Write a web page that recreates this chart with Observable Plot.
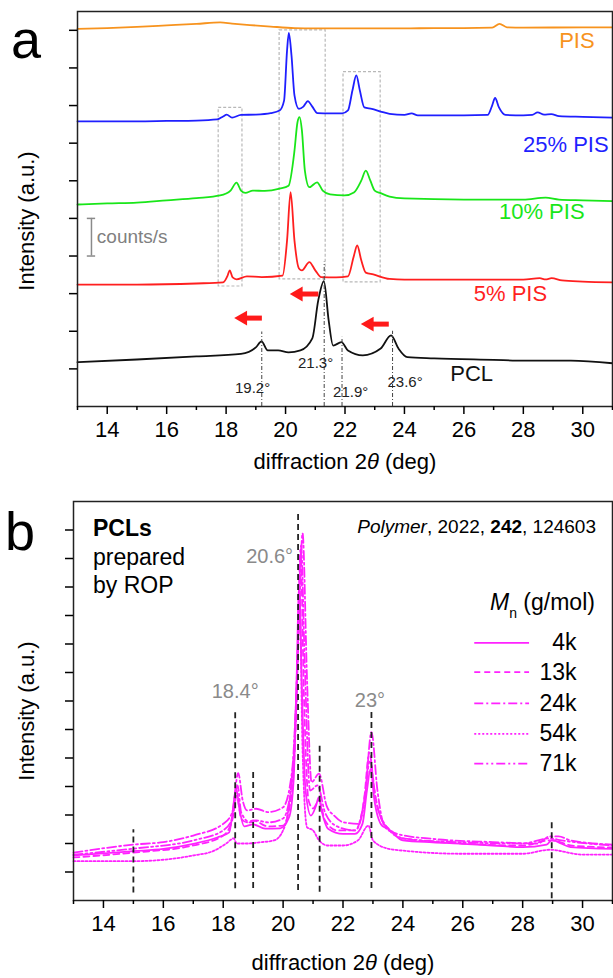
<!DOCTYPE html>
<html><head><meta charset="utf-8">
<script src="https://cdn.jsdelivr.net/npm/d3@7"></script>
<script src="https://cdn.jsdelivr.net/npm/@observablehq/plot@0.6"></script>
<style>
body{margin:0;background:#fff;font-family:Arial,"Liberation Sans",sans-serif;}
#wrap{position:relative;width:613px;height:978px;overflow:hidden;background:#fff;}
#wrap svg{position:absolute;left:0;overflow:visible;}
.abs{position:absolute;white-space:nowrap;line-height:1;color:#000;}
</style></head><body><div id="wrap"></div>
<script>
// ---------- Panel a data: [2theta (deg), intensity (a.u., offset)] ----------
const pisA = [[13,10.04],[14,10.06],[15,10.09],[16,10.13],[17,10.17],[17.8,10.21],[18.2,10.18],[18.8,10.14],[19.5,10.10],[20.3,10.06],[21,10.05],[22,10.05],[24,10.05],[25,10.06],[26,10.06],[26.95,10.07],[27.2,10.17],[27.45,10.08],[28,10.07],[30,10.08],[31,10.08]];
const pis25 = [[13,7.58],[15,7.58],[16,7.59],[17,7.60],[17.7,7.63],[17.9,7.71],[18.02,7.76],[18.2,7.68],[18.5,7.75],[19,7.76],[19.5,7.80],[19.8,7.87],[19.95,8.13],[20.05,9.46],[20.11,9.93],[20.2,9.33],[20.3,8.27],[20.45,7.91],[20.6,7.97],[20.75,8.12],[20.9,7.97],[21.07,7.80],[21.5,7.79],[21.9,7.79],[22.1,7.87],[22.25,8.40],[22.38,8.80],[22.5,8.40],[22.65,7.95],[22.9,7.91],[23.2,7.84],[23.5,7.78],[24.0,7.75],[24.24,7.79],[24.45,7.74],[25,7.74],[26,7.74],[26.8,7.75],[26.95,8.00],[27.05,8.20],[27.18,7.95],[27.4,7.75],[28,7.74],[28.3,7.75],[28.48,7.82],[28.7,7.76],[28.94,7.77],[29.2,7.72],[30,7.70],[31,7.68]];
const pis10 = [[13,5.37],[14,5.40],[15,5.42],[16,5.48],[17,5.54],[17.8,5.61],[18.15,5.74],[18.35,5.95],[18.5,5.74],[18.65,5.68],[18.9,5.74],[19.3,5.73],[19.8,5.79],[20.1,5.87],[20.3,6.80],[20.4,7.55],[20.47,7.69],[20.55,7.34],[20.65,6.27],[20.8,5.83],[21.06,5.96],[21.25,5.74],[21.5,5.64],[21.98,5.61],[22.3,5.69],[22.55,6.01],[22.7,6.27],[22.85,6.01],[23.0,5.74],[23.2,5.67],[23.5,5.58],[24,5.53],[26,5.50],[28,5.50],[28.75,5.55],[29.2,5.50],[30,5.48],[31,5.46]];
const pis5 = [[13,3.24],[15,3.24],[17,3.27],[17.9,3.30],[18.05,3.48],[18.12,3.62],[18.22,3.43],[18.35,3.38],[18.7,3.46],[19.2,3.44],[19.9,3.48],[20.05,4.41],[20.17,5.70],[20.3,4.41],[20.45,3.67],[20.55,3.62],[20.8,3.84],[21.0,3.62],[21.2,3.44],[21.7,3.43],[22.1,3.46],[22.3,4.01],[22.41,4.28],[22.55,3.88],[22.7,3.56],[22.95,3.51],[23.5,3.39],[24,3.37],[26,3.37],[28,3.37],[28.55,3.41],[28.75,3.38],[28.95,3.41],[29.3,3.35],[30,3.32],[31,3.30]];
const pcl = [[13,1.18],[15,1.25],[17,1.33],[18.5,1.40],[19.0,1.57],[19.19,1.73],[19.4,1.49],[19.75,1.49],[20.1,1.44],[20.5,1.49],[20.9,1.81],[21.1,2.82],[21.29,3.33],[21.45,2.29],[21.6,1.62],[21.88,1.71],[22.1,1.49],[22.6,1.36],[23.2,1.54],[23.55,1.89],[23.8,1.54],[24.1,1.31],[25,1.28],[27,1.24],[28,1.22],[29.6,1.22],[31,1.15]];
const seriesNamesA = ["PIS","25% PIS","10% PIS","5% PIS","PCL"];
const labelXA = [30.40, 30.87, 30.06, 28.80, 26.98];   // right end of each label
const labelYA = [9.73, 6.94, 5.16, 3.0, 0.87];
// dashed boxes: [x1, x2, y1, y2]
const boxesA = [[17.75,18.55,3.19,7.94],[19.8,21.35,3.38,10.0],[21.95,23.2,3.30,8.89]];
// PCL peak markers
const peakPos = [19.2, 21.3, 21.9, 23.6];
const peakTop = [1.98, 3.84, 1.84, 2.0];
const peakText = ["19.2°","21.3°","21.9°","23.6°"];
const peakTextX = [18.89, 21.01, 22.19, 24.02];
const peakTextY = [0.48, 1.15, 0.38, 0.65];
// shift arrows: [tip x, tail x, y]
const arrowsA = [[18.3,19.22,2.35],[20.17,21.12,2.99],[22.56,23.49,2.19]];
// scale bar
const barX = 13.47, barY = [4, 5];
const xTicksMajor = [14,16,18,20,22,24,26,28,30];
const xTicksMinor = [13,15,17,19,21,23,25,27,29,31];

// ---------- Panel b data ----------
const b4k = [[13,1.58],[14,1.65],[15,1.73],[16,1.81],[17,1.99],[17.8,2.21],[18.2,2.39],[18.3,2.98],[18.43,3.95],[18.55,3.16],[18.7,2.60],[19.0,2.67],[19.4,2.52],[19.9,2.53],[20.2,2.92],[20.35,4.21],[20.45,7.72],[20.54,11.30],[20.62,7.72],[20.75,3.86],[20.93,2.98],[21.1,3.33],[21.19,3.62],[21.3,3.09],[21.5,2.52],[22.0,2.34],[22.4,2.34],[22.65,2.69],[22.8,3.86],[22.92,4.62],[23.05,3.51],[23.3,2.63],[23.5,2.52],[24.0,2.11],[25,2.04],[26,1.99],[27,1.93],[28,1.87],[28.8,1.96],[28.98,2.13],[29.3,1.99],[29.6,1.87],[31,1.81]];
const b13k = [[13,1.51],[15,1.68],[17,1.93],[18,2.28],[18.3,2.81],[18.45,3.68],[18.6,2.88],[18.8,2.74],[19.0,2.81],[19.5,2.60],[20.0,2.63],[20.3,3.86],[20.45,7.02],[20.58,12.28],[20.7,7.02],[20.85,3.51],[21.0,3.23],[21.2,3.51],[21.4,2.81],[21.8,2.46],[22.4,2.46],[22.7,3.51],[22.88,5.19],[23.05,3.86],[23.3,2.81],[23.6,2.46],[24.0,2.18],[26,2.00],[28,1.93],[28.9,2.11],[29.2,2.07],[29.6,1.93],[31,1.86]];
const b24k = [[13,1.68],[15,1.96],[16,2.05],[17,2.28],[18,2.69],[18.3,3.09],[18.5,4.47],[18.65,3.51],[18.8,3.16],[19.1,3.22],[19.5,3.10],[20.0,3.27],[20.3,4.56],[20.5,8.77],[20.65,12.88],[20.8,7.72],[20.95,4.15],[21.2,4.45],[21.45,3.33],[21.7,2.98],[22.0,2.75],[22.5,2.69],[22.75,3.86],[22.95,5.91],[23.15,3.86],[23.4,2.57],[23.8,2.34],[25,2.16],[27,2.05],[28.5,2.00],[28.9,2.25],[29.2,2.25],[29.6,2.11],[31,1.96]];
const b54k = [[13,1.38],[15,1.38],[16,1.43],[17,1.58],[17.7,1.75],[18.1,2.00],[18.35,2.18],[18.45,2.00],[18.8,2.00],[19.2,2.04],[19.7,2.11],[20.0,2.46],[20.25,3.86],[20.45,7.02],[20.55,10.53],[20.65,5.26],[20.8,2.57],[21.0,2.46],[21.2,2.11],[21.5,1.93],[22.0,1.93],[22.5,2.11],[22.85,2.63],[23.0,2.11],[23.5,1.82],[24,1.75],[26,1.64],[28,1.64],[28.9,1.78],[30,1.61],[31,1.61]];
const b71k = [[13,1.61],[15,1.82],[17,2.11],[18,2.46],[18.3,2.88],[18.48,4.04],[18.6,3.09],[18.9,2.74],[19.1,2.81],[19.5,2.74],[20.0,2.88],[20.3,4.21],[20.5,9.12],[20.6,12.46],[20.72,8.42],[20.9,3.86],[21.15,4.04],[21.4,3.09],[21.8,2.60],[22.4,2.46],[22.7,3.33],[22.9,4.91],[23.1,3.51],[23.4,2.67],[24.0,2.18],[26,2.04],[28,2.00],[28.9,2.18],[29.3,2.11],[31,1.93]];
const mnLabels = ["4k","13k","24k","54k","71k"];
const bDashX = [15, 18.4, 19.0, 20.5, 21.22, 22.95, 28.97];
const bDashTop = [2.48, 6.6, 4.62, 13.58, 5.5, 6.6, 2.75];
const bDashBottom = [0.26, 0.41, 0.42, 0.35, 0.29, 0.42, 0.06];
const bPeakText = ["18.4°","20.6°","23°"];
const bPeakX = [18.4, 19.55, 22.9];
const bPeakY = [7.33, 12.07, 7.02];
const bNoteBold = ["PCLs"];
const bNote = ["prepared","by ROP"];

// ---------- styles ----------
const FONT = "Arial, 'Liberation Sans', sans-serif";
const colorsA = ["#f7931e","#1f1fff","#19e619","#ff1f1f","#111111"];
const dashB = [null,"6,4","9,3,2,3","2,2","9,3,2,3,2,3"];
const MAG = "#ff22ff";

const pt = a => a.map(([x,y]) => ({x,y}));
const wrap = document.getElementById("wrap");

// ---------- Panel a ----------
const seriesA = [pisA, pis25, pis10, pis5, pcl];
const plotA = Plot.plot({
  width: 613, height: 480,
  marginLeft: 77, marginRight: 1, marginTop: 11, marginBottom: 74,
  x: {domain: [13, 31]}, y: {domain: [0, 10.5]},
  style: {fontFamily: FONT, fontSize: "22px", color: "#000", background: "transparent"},
  marks: [
    Plot.rect(boxesA.map(b => ({x1:b[0],x2:b[1],y1:b[2],y2:b[3]})), {x1:"x1",x2:"x2",y1:"y1",y2:"y2", fill:"none", stroke:"#b8b8b8", strokeDasharray:"3,2", strokeWidth:1.2}),
    ...seriesA.map((s,i) => Plot.line(pt(s), {x:"x", y:"y", stroke: colorsA[i], strokeWidth: 1.8, curve: "monotone-x"})),
    Plot.ruleX(peakPos.map((p,i)=>({x:p, y2:peakTop[i]})), {x:"x", y1:0, y2:"y2", stroke:"#444", strokeWidth:1, strokeDasharray:"4,2,1,2"}),
    Plot.text(peakText.map((t,i)=>({t, x:peakTextX[i], y:peakTextY[i]})), {x:"x", y:"y", text:"t", fontSize:15, fill:"#222"}),
    Plot.ruleY(arrowsA.map(a=>({x1:a[0]+0.3, x2:a[1], y:a[2]})), {x1:"x1", x2:"x2", y:"y", stroke:"#ff1a1a", strokeWidth:5}),
    Plot.dot(arrowsA.map(a=>({x:a[0]+0.26, y:a[2]})), {x:"x", y:"y", symbol:"triangle", r:5.5, fill:"#ff1a1a", stroke:"none", rotate:-90}),
    Plot.ruleX([{x:barX, y1:barY[0], y2:barY[1]}], {x:"x", y1:"y1", y2:"y2", stroke:"#8a8a8a", strokeWidth:1.5}),
    Plot.ruleY(barY.map(y=>({y})), {y:"y", x1:barX-0.14, x2:barX+0.14, stroke:"#8a8a8a", strokeWidth:1.5}),
    Plot.text([{t:"counts/s", x:barX+0.18, y:(barY[0]+barY[1])/2}], {x:"x", y:"y", text:"t", textAnchor:"start", fontSize:19, fill:"#808080"}),
    Plot.text(seriesNamesA.map((t,i)=>({t, x:labelXA[i], y:labelYA[i], c:colorsA[i]})), {x:"x", y:"y", text:"t", fill:"c", fontSize:22, textAnchor:"end"}),
    Plot.frame({stroke:"#222", strokeWidth:1.5}),
    Plot.axisY({ticks:[1,2,3,4,5,6,7,8,9,10], tickSize:8, tickFormat:()=>"", label:null, strokeWidth:1.5}),
    Plot.axisX({ticks:xTicksMajor, tickSize:8, tickPadding:7, label:null, strokeWidth:1.5, fontSize:22}),
    Plot.axisX({ticks:xTicksMinor, tickSize:4, tickFormat:()=>"", label:null, strokeWidth:1.5})
  ]
});
plotA.style.top = "0px";
wrap.appendChild(plotA);

// ---------- Panel b ----------
const seriesB = [b4k, b13k, b24k, b54k, b71k];
const legendY = [9.04, 8.01, 6.92, 5.85, 4.80];
const plotB = Plot.plot({
  width: 613, height: 498,
  marginLeft: 73, marginRight: 1, marginTop: 21, marginBottom: 78,
  x: {domain: [13, 31]}, y: {domain: [0, 14]},
  style: {fontFamily: FONT, fontSize: "22px", color: "#000", background: "transparent"},
  marks: [
    ...seriesB.map((s,i) => Plot.line(pt(s), {x:"x", y:"y", stroke: MAG, strokeWidth: 1.8, curve: "monotone-x", strokeDasharray: dashB[i] || undefined})),
    Plot.ruleX(bDashX.map((x,i)=>({x, y1:bDashBottom[i], y2:bDashTop[i]})), {x:"x", y1:"y1", y2:"y2", stroke:"#222", strokeWidth:1.8, strokeDasharray:"6,4"}),
    Plot.text(bPeakText.map((t,i)=>({t, x:bPeakX[i], y:bPeakY[i]})), {x:"x", y:"y", text:"t", fontSize:20, fill:"#8a8a8a"}),
    Plot.text(bNoteBold.map(t=>({t, y:13.05})), {x:13.65, y:"y", text:"t", textAnchor:"start", fontSize:23, fontWeight:"bold", fill:"#000"}),
    Plot.text(bNote.map((t,i)=>({t, y:[12.04,11.05][i]})), {x:13.65, y:"y", text:"t", textAnchor:"start", fontSize:23, fill:"#000"}),
    ...mnLabels.map((m,i) => Plot.ruleY([{y:legendY[i]}], {y:"y", x1:26.4, x2:28.23, stroke:MAG, strokeWidth:1.8, strokeDasharray: dashB[i] || undefined})),
    Plot.text(mnLabels.map((t,i)=>({t, y:legendY[i]})), {x:29.8, y:"y", text:"t", textAnchor:"end", fontSize:23, fill:"#000"}),
    Plot.frame({stroke:"#222", strokeWidth:1.5}),
    Plot.axisY({ticks:d3.range(1,14), tickSize:8, tickFormat:()=>"", label:null, strokeWidth:1.5}),
    Plot.axisX({ticks:xTicksMajor, tickSize:8, tickPadding:7, label:null, strokeWidth:1.5, fontSize:22}),
    Plot.axisX({ticks:xTicksMinor, tickSize:4, tickFormat:()=>"", label:null, strokeWidth:1.5})
  ]
});
plotB.style.top = "480px";
wrap.appendChild(plotB);

// ---------- HTML text ----------
function addText(html, css){ const d=document.createElement("div"); d.className="abs"; d.innerHTML=html; Object.assign(d.style, css); wrap.appendChild(d); return d; }
addText("a", {left:"11px", top:"12px", fontSize:"54px"});
addText("b", {left:"5px", top:"504px", fontSize:"54px"});
const xTitle = 'diffraction 2<i>θ</i> (deg)';
addText(xTitle, {left:"145px", width:"400px", textAlign:"center", top:"451px", fontSize:"22px"});
addText(xTitle, {left:"143px", width:"400px", textAlign:"center", top:"952px", fontSize:"22px"});
const yTitle = 'Intensity (a.u.)';
addText(yTitle, {left:(27-150)+"px", width:"300px", textAlign:"center", top:(221-11)+"px", fontSize:"22px", transform:"rotate(-90deg)"});
addText(yTitle, {left:(27-150)+"px", width:"300px", textAlign:"center", top:(711-11)+"px", fontSize:"22px", transform:"rotate(-90deg)"});
addText('<i>Polymer</i>, 2022, <b>242</b>, 124603', {right:"17px", top:"517px", fontSize:"19px"});
addText('<i>M</i><span style="font-size:14px;position:relative;top:8px;">n</span> (g/mol)', {left:"490px", top:"591px", fontSize:"23px"});
</script></body></html>
